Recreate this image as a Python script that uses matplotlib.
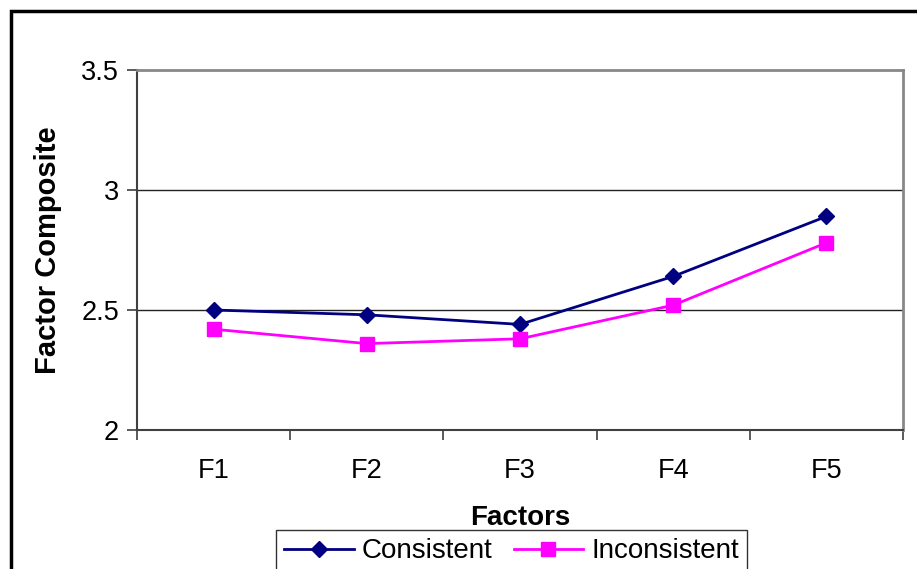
import matplotlib
matplotlib.use("Agg")
import matplotlib.pyplot as plt
from matplotlib.patches import Rectangle
from matplotlib.ticker import FixedLocator, FuncFormatter

categories = ["F1", "F2", "F3", "F4", "F5"]
consistent = [2.50, 2.48, 2.44, 2.64, 2.89]
inconsistent = [2.42, 2.36, 2.38, 2.52, 2.78]
y_ticks = [2.0, 2.5, 3.0, 3.5]

plt.rcParams["font.family"] = ["Liberation Sans", "DejaVu Sans"]

W, H = 917, 569
fig = plt.figure(figsize=(W / 100, H / 100), dpi=100)

# plot area in pixel coordinates
left, right, top, bottom = 137, 903, 70, 430
ax = fig.add_axes([left / W, 1 - bottom / H, (right - left) / W, (bottom - top) / H])

x = list(range(1, len(categories) + 1))
ax.plot(x, consistent, color="#000080", lw=2.0, marker="D", ms=8.4,
        mfc="#000080", mec="#000080", label="Consistent", zorder=3)
ax.plot(x, inconsistent, color="#FF00FF", lw=2.0, marker="s", ms=10.5,
        mfc="#FF00FF", mec="#FF00FF", label="Inconsistent", zorder=3)

ax.set_xlim(0.5, len(categories) + 0.5)
ax.set_ylim(2.0, 3.5)

FS = 19.5
ax.set_yticks(y_ticks)
ax.yaxis.set_major_formatter(FuncFormatter(lambda v, p: f"{v:g}"))
ax.tick_params(axis="y", direction="out", length=7, width=1.2, color="#404040",
               labelsize=FS, pad=6)

ax.set_xticks(x)
ax.set_xticklabels(categories)
ax.xaxis.set_minor_locator(FixedLocator([i + 0.5 for i in range(0, len(categories) + 1)]))
ax.tick_params(axis="x", which="major", length=0, labelsize=FS, pad=20)
ax.tick_params(axis="x", which="minor", direction="out", length=7, width=1.2, color="#404040")

for yv in y_ticks[1:-1]:
    ax.axhline(yv, color="#222222", lw=1.0, zorder=1)

for s in ["left", "bottom"]:
    ax.spines[s].set_color("#404040")
    ax.spines[s].set_linewidth(1.5)
for s in ["top", "right"]:
    ax.spines[s].set_color("#888888")
    ax.spines[s].set_linewidth(2.0)

ax.set_xlabel("Factors", fontsize=20, fontweight="bold", labelpad=15)
ax.set_ylabel("Factor Composite", fontsize=21, fontweight="bold", labelpad=14)

leg = ax.legend(loc="upper left", bbox_to_anchor=((276 - left) / (right - left), -(530 - bottom) / (bottom - top)),
                ncol=2, fontsize=20, frameon=True, fancybox=False, borderaxespad=0,
                handlelength=2.5, handletextpad=0.3, columnspacing=0.75,
                borderpad=0.3, markerscale=1.0)
leg.get_frame().set_edgecolor("black")
leg.get_frame().set_linewidth(1.0)

# outer chart border
fig.patches.append(Rectangle((11 / W, -0.1), 1.2, 1 - 11 / H + 0.1, transform=fig.transFigure,
                             fill=False, edgecolor="black", lw=2.5, zorder=0))

fig.savefig("out.png", dpi=100)
